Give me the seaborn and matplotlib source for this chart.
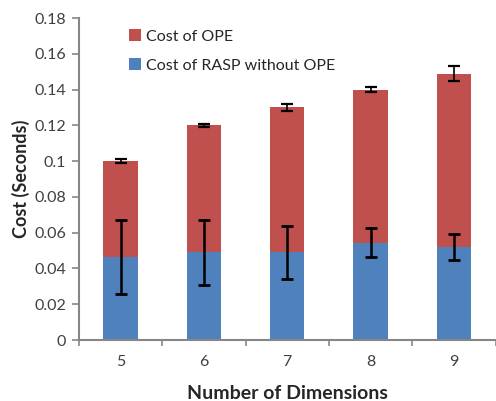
"""Stacked bar chart: cost of OPE vs RASP over number of dimensions."""

import matplotlib

matplotlib.use("Agg")
import matplotlib.pyplot as plt
import numpy as np
import pandas as pd
import seaborn as sns

dims = ["5", "6", "7", "8", "9"]
total_cost = [0.100, 0.120, 0.130, 0.140, 0.149]
total_err = [0.001, 0.001, 0.002, 0.0015, 0.004]
rasp_cost = [0.0465, 0.049, 0.049, 0.0545, 0.052]
rasp_err = [0.0205, 0.018, 0.015, 0.008, 0.0075]

RED = "#C0504D"
BLUE = "#4F81BD"
AXIS_GRAY = "#868686"

sns.set_theme(style="white")
plt.rcParams["font.family"] = ["Lato", "DejaVu Sans"]

df = pd.DataFrame({"dims": dims, "total": total_cost, "rasp": rasp_cost})

fig = plt.figure(figsize=(4.96, 4.01), dpi=100)
ax = fig.add_axes([0.159, 0.152, 0.84, 0.803])

sns.barplot(data=df, x="dims", y="total", color=RED, width=0.41,
            saturation=1, linewidth=0, label="Cost of OPE", ax=ax)
sns.barplot(data=df, x="dims", y="rasp", color=BLUE, width=0.41,
            saturation=1, linewidth=0, label="Cost of RASP without OPE",
            ax=ax)

pos = np.arange(len(dims))
ax.errorbar(pos, total_cost, yerr=total_err, fmt="none", ecolor="black",
            elinewidth=1.2, capsize=4, capthick=1.6)
ax.errorbar(pos, rasp_cost, yerr=rasp_err, fmt="none", ecolor="black",
            elinewidth=1.8, capsize=4, capthick=2)

ax.set_ylim(0, 0.18)
ax.set_xlim(-0.5, len(dims) - 0.5)
ax.set_yticks(np.arange(0, 0.181, 0.02))
ax.set_yticklabels(["0", "0.02", "0.04", "0.06", "0.08", "0.1",
                    "0.12", "0.14", "0.16", "0.18"])

# category ticks sit between the bars, labels centred under them
ax.set_xticks(np.arange(-0.5, len(dims) + 0.5, 1.0))
ax.set_xticklabels([])
ax.set_xticks(pos, minor=True)
ax.set_xticklabels(dims, minor=True)
ax.tick_params(axis="x", which="major", length=4, width=1.2,
               color=AXIS_GRAY, direction="out", bottom=True)
ax.tick_params(axis="x", which="minor", length=0, pad=11,
               labelsize=11.5, labelcolor="#404040")
ax.tick_params(axis="y", length=5, width=1.2, color=AXIS_GRAY,
               direction="out", left=True, labelsize=11.5,
               labelcolor="#404040", pad=4)

for side in ["top", "right"]:
    ax.spines[side].set_visible(False)
for side in ["left", "bottom"]:
    ax.spines[side].set_color(AXIS_GRAY)
    ax.spines[side].set_linewidth(1.5)

ax.set_xlabel("Number of Dimensions", fontsize=14, fontweight="bold",
              labelpad=11)
ax.set_ylabel("Cost (Seconds)", fontsize=13, fontweight="bold",
              labelpad=3)

ax.legend(loc="upper left", bbox_to_anchor=(0.085, 1.01), frameon=False,
          fontsize=11.5, handlelength=0.8, handleheight=0.8,
          handletextpad=0.3, labelspacing=0.9)

fig.savefig("out.png", dpi=100)
